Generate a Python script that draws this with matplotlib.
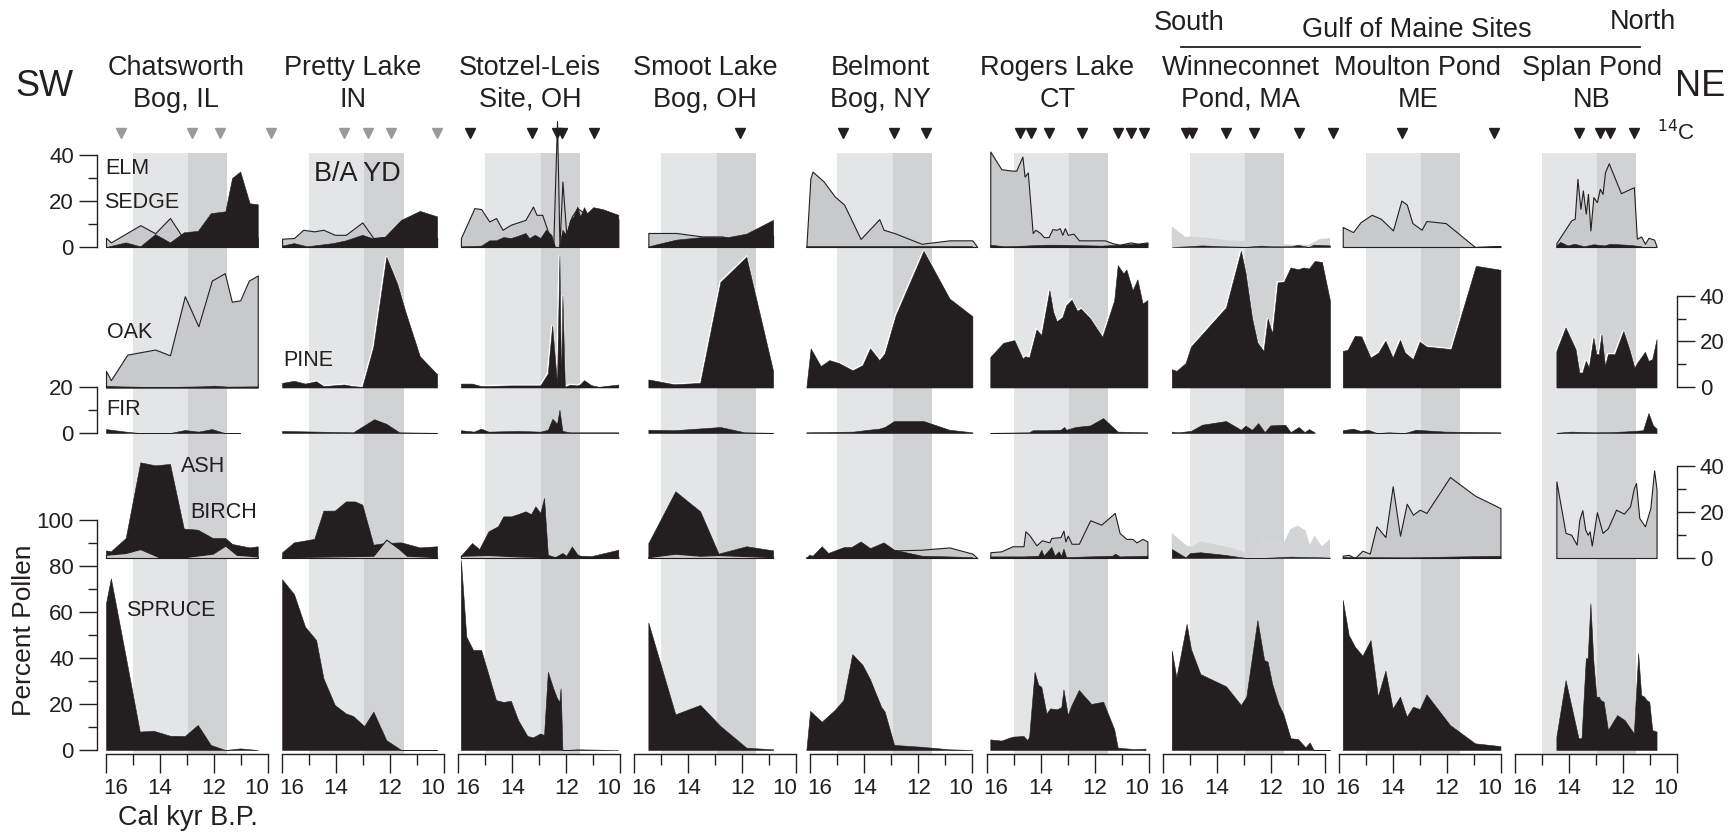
import matplotlib
matplotlib.use("Agg")
import matplotlib.pyplot as plt
from matplotlib.transforms import blended_transform_factory
from matplotlib.ticker import FixedLocator

plt.rcParams['font.family'] = ['Liberation Sans', 'DejaVu Sans']

# ---------------------------------------------------------------- data
SITE_LINE1 = ["Chatsworth", "Pretty Lake", "Stotzel-Leis", "Smoot Lake", "Belmont",
              "Rogers Lake", "Winneconnet", "Moulton Pond", "Splan Pond"]
SITE_LINE2 = ["Bog, IL", "IN", "Site, OH", "Bog, OH", "Bog, NY", "CT", "Pond, MA", "ME", "NB"]

BA_START, YD_START, YD_END = 15.0, 12.95, 11.5
AGE_TICKS = [16, 14, 12, 10]

# Chatsworth Bog, IL
CHA_SEDGE_T = [16.0, 15.82, 14.73, 14.18, 13.63, 13.22, 12.6, 12.0, 11.0, 10.38]
CHA_SEDGE = [4.0, 2.0, 9.5, 6.0, 12.6, 5.3, 4.0, 4.0, 4.0, 4.0]
CHA_ELM_T = [16.0, 15.27, 14.73, 14.18, 13.63, 13.12, 12.6, 12.12, 11.58, 11.33, 11.03, 10.68, 10.38]
CHA_ELM = [0.0, 2.0, 0.3, 5.6, 2.0, 6.4, 7.0, 14.7, 15.5, 30.0, 32.8, 19.0, 18.6]
CHA_OAK_T = [16.0, 15.82, 15.21, 14.18, 13.63, 13.08, 12.58, 12.08, 11.6, 11.34, 11.03, 10.71, 10.38]
CHA_OAK = [7.2, 3.2, 14.3, 16.5, 14.0, 39.7, 26.6, 46.5, 49.7, 37.3, 37.9, 46.5, 48.7]
CHA_PINE_T = [16.0, 15.5, 14.5, 13.5, 12.5, 12.0, 11.5, 10.38]
CHA_PINE = [0.8, 0.5, 0.3, 0.3, 0.5, 0.8, 0.4, 0.5]
CHA_FIR_T = [16.0, 15.27, 14.75, 13.63, 13.08, 12.58, 12.08, 11.6, 11.03]
CHA_FIR = [1.7, 0.6, 0.0, 0.0, 1.3, 0.6, 1.7, 0.0, 0.0]
CHA_ASH_T = [16.0, 15.82, 15.27, 14.73, 14.18, 13.63, 13.12, 12.6, 12.05, 11.58, 11.33, 10.68, 10.38]
CHA_ASH = [3.3, 2.9, 8.7, 41.6, 40.3, 40.9, 12.8, 12.3, 8.7, 8.7, 6.1, 4.6, 5.1]
CHA_BIRCH_T = [16.0, 15.27, 14.73, 14.04, 13.08, 12.05, 11.58, 11.16, 10.38]
CHA_BIRCH = [1.4, 2.2, 3.9, 0.4, 0.4, 1.9, 5.4, 1.4, 0.7]
CHA_SPRUCE_T = [16.0, 15.82, 15.27, 14.75, 14.25, 13.63, 13.08, 12.6, 12.12, 11.58, 11.03, 10.38]
CHA_SPRUCE = [63.8, 74.6, 40.6, 8.0, 8.4, 6.2, 6.1, 10.9, 2.2, 0.0, 0.7, 0.0]
CHA_C14 = [15.44, 12.8, 11.79, 9.88]

# Pretty Lake, IN
PRE_SEDGE_T = [16.0, 15.56, 15.22, 14.81, 14.47, 14.05, 13.64, 13.03, 12.62, 12.21, 11.6, 10.26]
PRE_SEDGE = [3.6, 3.9, 7.5, 6.8, 7.5, 5.3, 5.3, 10.7, 3.9, 4.3, 4.0, 4.0]
PRE_ELM_T = [16.0, 15.56, 15.08, 14.12, 13.64, 13.03, 12.68, 12.21, 11.59, 10.9, 10.26]
PRE_ELM = [0.6, 1.7, 0.3, 1.7, 2.9, 5.3, 3.9, 4.3, 11.8, 15.7, 13.3]
PRE_PINE_T = [16.0, 15.56, 15.15, 14.74, 14.47, 13.71, 13.37, 13.03, 12.62, 12.14, 11.73, 11.45, 10.9, 10.26]
PRE_PINE = [2.0, 2.9, 1.7, 2.7, 0.6, 1.3, 0.6, 0.3, 17.7, 56.8, 45.0, 33.6, 13.6, 5.8]
PRE_FIR_T = [16.0, 13.37, 12.59, 12.14, 11.66, 10.26]
PRE_FIR = [0.9, 0.3, 6.0, 4.0, 0.3, 0.1]
PRE_ASH_T = [16.0, 15.56, 14.81, 14.47, 14.05, 13.64, 13.3, 13.03, 12.62, 12.21, 11.59, 10.9, 10.26]
PRE_ASH = [2.5, 6.8, 8.3, 20.6, 20.6, 24.6, 24.6, 23.2, 5.8, 6.5, 6.8, 4.6, 5.1]
PRE_BIRCH_T = [16.0, 14.12, 12.62, 12.14, 11.66, 11.38, 10.26]
PRE_BIRCH = [0.4, 0.7, 1.0, 8.0, 3.9, 1.0, 0.4]
PRE_SPRUCE_T = [16.0, 15.56, 15.15, 14.74, 14.47, 14.05, 13.64, 13.37, 12.96, 12.62, 12.14, 11.59, 10.26]
PRE_SPRUCE = [74.2, 67.8, 53.6, 47.8, 31.2, 19.6, 15.9, 14.8, 10.4, 16.7, 4.3, 0.0, 0.0]
PRE_C14 = [13.7, 12.81, 11.96, 10.25]

# Stotzel-Leis Site, OH
STO_SEDGE_T = [15.9, 15.4, 15.15, 14.85, 14.6, 14.36, 14.05, 13.51, 13.23, 13.1, 12.89, 12.68,
               12.48, 12.34, 12.25, 12.14, 12.0, 11.79, 11.59, 11.0, 10.07]
STO_SEDGE = [3.9, 16.9, 16.5, 11.1, 12.6, 7.5, 9.7, 11.8, 17.6, 14.0, 14.0, 6.8,
             0.3, 54.8, 0.3, 28.5, 5.8, 13.3, 16.9, 12.0, 12.0]
STO_ELM_T = [15.9, 15.15, 14.85, 14.6, 14.33, 14.05, 13.78, 13.51, 13.37, 13.16, 12.96, 12.75, 12.55,
             12.41, 12.27, 12.14, 12.0, 11.86, 11.73, 11.59, 11.48, 11.34, 11.23, 11.0, 10.66, 10.07]
STO_ELM = [0.3, 0.6, 2.9, 2.9, 4.3, 3.9, 4.9, 6.1, 3.9, 5.3, 3.9, 7.5, 5.3,
           0.0, 0.0, 7.5, 5.3, 11.8, 13.3, 17.6, 13.3, 17.3, 14.7, 17.3, 16.5, 14.0]
STO_PINE_T = [15.9, 15.49, 15.15, 14.05, 12.96, 12.68, 12.52, 12.34, 12.25, 12.19, 12.14, 12.05,
              11.86, 11.59, 11.48, 11.34, 11.07, 10.79, 10.07]
STO_PINE = [1.7, 1.7, 0.6, 0.9, 0.9, 6.1, 27.0, 1.7, 57.4, 0.3, 40.0, 0.3, 1.2, 0.9, 1.4, 3.2, 1.0, 0.3, 1.3]
STO_FIR_T = [15.9, 15.42, 15.15, 14.88, 13.78, 12.96, 12.68, 12.51, 12.34, 12.25, 12.14, 11.86, 10.07]
STO_FIR = [1.2, 0.6, 1.9, 0.6, 0.9, 0.6, 1.4, 6.2, 4.0, 10.1, 0.9, 0.3, 0.3]
STO_ASH_T = [15.9, 15.49, 15.22, 14.88, 14.53, 14.33, 14.05, 13.78, 13.51, 13.3, 13.14, 12.96, 12.82,
             12.68, 12.41, 12.14, 12.0, 11.79, 11.59, 11.48, 11.07, 10.07]
STO_ASH = [1.0, 6.5, 3.9, 11.6, 13.8, 18.1, 18.1, 19.1, 20.3, 19.1, 22.5, 19.6, 26.1,
           1.4, 0.4, 2.2, 1.0, 5.0, 1.6, 1.0, 0.8, 3.6]
STO_BIRCH_T = [15.9, 14.88, 13.78, 12.68, 12.14, 10.07]
STO_BIRCH = [1.0, 1.3, 0.7, 0.4, 0.4, 0.5]
STO_SPRUCE_T = [15.9, 15.7, 15.45, 15.15, 14.6, 14.33, 14.05, 13.78, 13.44, 13.23, 12.96, 12.82, 12.68,
                12.48, 12.34, 12.25, 12.21, 12.19, 12.14, 12.07, 11.59, 10.07]
STO_SPRUCE = [82.6, 49.3, 43.5, 43.5, 21.7, 20.9, 21.4, 13.0, 6.1, 5.5, 7.2, 6.5, 34.0,
              26.8, 22.5, 21.0, 26.8, 21.0, 0.0, 0.0, 0.3, 0.0]
STO_C14 = [15.56, 13.27, 12.34, 12.14, 10.98]

# Smoot Lake Bog, OH
SMO_SEDGE_T = [15.48, 14.45, 13.49, 12.74, 12.53, 11.85, 10.86]
SMO_SEDGE = [6.1, 6.1, 4.6, 4.6, 3.9, 5.0, 5.0]
SMO_ELM_T = [15.48, 14.45, 13.49, 12.53, 11.85, 10.86]
SMO_ELM = [0.3, 3.2, 4.3, 4.3, 5.8, 11.8]
SMO_PINE_T = [15.48, 14.52, 13.56, 12.81, 11.85, 10.86]
SMO_PINE = [3.5, 1.4, 2.0, 45.9, 56.8, 7.2]
SMO_FIR_T = [15.48, 14.52, 12.81, 11.92, 10.86]
SMO_FIR = [1.4, 1.2, 2.6, 0.3, 0.1]
SMO_ASH_T = [15.48, 14.48, 13.56, 12.88, 11.85, 10.86]
SMO_ASH = [6.5, 29.0, 20.3, 1.9, 5.1, 3.3]
SMO_BIRCH_T = [15.48, 14.48, 13.56, 12.88, 10.86]
SMO_BIRCH = [0.4, 1.9, 1.0, 1.3, 0.4]
SMO_SPRUCE_T = [15.48, 14.48, 13.56, 12.81, 11.85, 10.86]
SMO_SPRUCE = [55.4, 15.5, 19.6, 10.4, 1.0, 0.3]
SMO_C14 = [12.08]

# Belmont Bog, NY
BEL_SEDGE_T = [16.15, 16.0, 15.92, 15.51, 15.1, 14.75, 14.14, 13.45, 13.29, 12.9, 11.88, 10.85, 10.0, 9.82]
BEL_SEDGE = [0.0, 29.9, 32.8, 28.5, 22.0, 18.4, 3.5, 12.1, 7.5, 6.1, 1.4, 2.9, 2.9, 0.0]
BEL_ELM_T = [16.15, 13.0, 10.0]
BEL_ELM = [0.3, 0.3, 0.3]
BEL_PINE_T = [16.15, 15.99, 15.62, 15.3, 14.96, 14.44, 14.07, 13.79, 13.45, 13.25, 12.84, 11.81, 10.85, 10.0]
BEL_PINE = [0.0, 17.0, 9.3, 11.9, 10.7, 7.5, 9.7, 17.0, 11.9, 14.8, 31.4, 59.4, 38.7, 31.0]
BEL_FIR_T = [16.15, 14.41, 13.86, 13.45, 13.25, 12.9, 11.81, 10.85, 10.0]
BEL_FIR = [0.3, 0.6, 1.4, 1.9, 2.6, 5.2, 5.2, 1.4, 0.3]
BEL_ASH_T = [16.15, 16.05, 15.92, 15.58, 15.34, 14.75, 14.48, 14.14, 13.79, 13.29, 12.9, 11.88, 10.0]
BEL_ASH = [0.0, 1.4, 1.0, 5.1, 2.2, 4.8, 4.8, 7.2, 4.3, 6.8, 3.6, 1.0, 0.4]
BEL_BIRCH_T = [16.15, 12.9, 11.88, 10.85, 10.0, 9.82]
BEL_BIRCH = [0.4, 3.3, 3.6, 4.6, 1.9, 0.0]
BEL_SPRUCE_T = [16.15, 16.01, 15.58, 15.1, 14.78, 14.45, 14.07, 13.79, 13.38, 13.25, 12.9, 11.88, 10.85, 10.0]
BEL_SPRUCE = [0.0, 17.0, 12.3, 17.4, 21.7, 41.7, 37.0, 30.7, 18.8, 16.7, 2.2, 1.4, 0.3, 0.0]
BEL_C14 = [14.8, 12.91, 11.72]

# Rogers Lake, CT
ROG_SEDGE_T = [15.86, 15.45, 15.04, 14.9, 14.67, 14.59, 14.47, 14.29, 14.19, 14.01, 13.88, 13.7, 13.56,
               13.4, 13.29, 13.19, 13.1, 12.99, 12.78, 12.58, 11.62, 11.34, 11.07, 10.66, 10.38, 10.04]
ROG_SEDGE = [41.5, 33.8, 33.2, 33.2, 39.3, 30.6, 32.4, 6.1, 7.5, 6.1, 4.3, 4.3, 7.8,
             7.5, 8.2, 5.3, 8.2, 5.3, 5.8, 2.9, 2.9, 1.7, 1.0, 2.0, 1.4, 2.0]
ROG_ELM_T = [15.86, 15.32, 14.63, 13.81, 13.26, 11.75, 11.07, 10.04]
ROG_ELM = [1.0, 0.3, 0.6, 1.0, 1.0, 0.6, 1.0, 1.7]
ROG_PINE_T = [15.86, 15.38, 14.97, 14.66, 14.56, 14.42, 14.15, 13.97, 13.67, 13.53, 13.4, 13.19, 13.05,
              12.85, 12.64, 12.51, 12.16, 11.71, 11.27, 11.14, 10.93, 10.82, 10.59, 10.41, 10.22, 10.04]
ROG_PINE = [13.3, 19.4, 20.6, 12.6, 13.6, 13.0, 25.2, 22.8, 42.3, 32.9, 28.8, 30.6, 35.7,
            38.2, 33.3, 34.3, 30.0, 22.0, 37.9, 53.2, 49.6, 51.3, 42.3, 47.0, 36.5, 38.0]
ROG_FIR_T = [15.86, 14.42, 14.29, 13.81, 13.26, 13.12, 13.05, 12.71, 12.16, 11.68, 11.14, 10.04]
ROG_FIR = [0.1, 0.3, 1.2, 1.2, 1.4, 2.6, 1.4, 2.6, 3.3, 6.5, 0.6, 0.3]
ROG_ASH_T = [15.86, 14.63, 14.08, 13.97, 13.88, 13.6, 13.47, 13.33, 13.23, 13.15, 13.05, 11.34, 11.23, 11.07, 10.04]
ROG_ASH = [0.7, 0.7, 1.0, 3.6, 1.0, 4.8, 1.0, 2.9, 1.0, 4.1, 0.4, 1.0, 1.9, 0.7, 1.0]
ROG_BIRCH_T = [15.86, 15.45, 15.04, 14.63, 14.56, 14.42, 14.15, 13.95, 13.67, 13.6, 13.26, 13.15, 13.08,
               12.99, 12.85, 12.58, 12.16, 11.75, 11.25, 11.07, 10.82, 10.59, 10.45, 10.22, 10.04]
ROG_BIRCH = [2.5, 2.9, 5.1, 5.1, 11.6, 10.1, 5.5, 7.7, 6.8, 8.7, 9.1, 11.9, 7.2,
             9.7, 6.2, 6.2, 16.4, 14.5, 19.6, 10.9, 8.3, 8.3, 6.8, 8.3, 7.2]
ROG_SPRUCE_T = [15.86, 15.45, 15.04, 14.63, 14.49, 14.42, 14.22, 14.08, 13.97, 13.78, 13.64, 13.4, 13.23,
                13.15, 12.99, 12.85, 12.58, 12.12, 11.68, 11.27, 11.14, 10.52, 10.11]
ROG_SPRUCE = [4.6, 4.1, 5.8, 6.1, 4.3, 5.8, 34.0, 28.3, 27.5, 15.9, 18.1, 17.7, 18.6,
              26.4, 15.2, 19.6, 26.1, 20.0, 21.0, 9.0, 1.0, 0.4, 0.6]
ROG_C14 = [14.77, 14.36, 13.67, 12.48, 11.14, 10.66, 10.15]

# Winneconnet Pond, MA
WIN_SEDGE_T = [15.66, 15.15, 14.95, 14.27, 13.58, 12.9, 12.69, 12.35, 11.94, 11.26, 10.58, 10.17, 9.8]
WIN_SEDGE = [9.0, 4.3, 4.6, 3.9, 2.9, 2.5, 3.5, 1.4, 1.4, 1.0, 1.0, 3.5, 3.9]
WIN_ELM_T = [15.66, 15.08, 14.54, 13.72, 12.9, 12.35, 11.94, 11.26, 10.99, 10.58, 10.41, 9.8]
WIN_ELM = [0.0, 0.3, 0.7, 0.3, 0.1, 0.6, 0.3, 0.3, 0.9, 0.0, 1.0, 0.7]
WIN_PINE_T = [15.66, 15.49, 15.15, 14.95, 13.65, 13.1, 12.93, 12.69, 12.49, 12.26, 12.11, 11.94, 11.74,
              11.51, 11.26, 10.99, 10.78, 10.58, 10.37, 10.1, 9.8]
WIN_PINE = [8.0, 7.2, 10.6, 17.8, 34.8, 59.4, 50.0, 30.4, 19.6, 15.9, 30.0, 23.5, 45.7,
            46.0, 52.2, 51.4, 52.2, 51.7, 55.0, 54.6, 37.7]
WIN_FIR_T = [15.66, 15.43, 14.95, 14.54, 13.65, 13.1, 12.93, 12.69, 12.46, 12.22, 12.01, 11.46, 11.26,
             10.96, 10.74, 10.58, 10.37]
WIN_FIR = [0.6, 0.3, 0.9, 3.6, 5.2, 1.4, 3.2, 1.4, 4.3, 0.4, 3.3, 3.6, 0.4, 2.6, 0.4, 1.7, 0.3]
WIN_ASH_T = [15.66, 15.15, 14.98, 14.6, 13.72, 12.9, 12.35, 11.26, 9.8]
WIN_ASH = [3.9, 0.3, 2.2, 2.5, 1.4, 0.0, 0.0, 0.6, 0.2]
WIN_BIRCH_T = [15.66, 15.08, 14.88, 14.6, 13.72, 13.04, 12.83, 12.56, 12.35, 12.08, 11.53, 11.26, 10.99,
               10.71, 10.55, 10.37, 10.1, 9.8]
WIN_BIRCH = [10.9, 5.1, 5.1, 7.2, 5.1, 2.9, 0.0, 3.3, 10.1, 7.7, 6.2, 12.6, 14.1, 12.0, 5.8, 9.7, 5.1, 8.3]
WIN_SPRUCE_T = [15.66, 15.49, 15.11, 14.95, 14.6, 13.65, 13.1, 12.9, 12.49, 12.24, 12.11, 11.94, 11.71,
                11.53, 11.26, 10.99, 10.71, 10.55, 10.41, 9.8]
WIN_SPRUCE = [43.2, 31.6, 54.8, 43.9, 33.0, 27.7, 19.6, 23.2, 56.5, 39.1, 38.4, 28.7, 20.0,
              15.7, 5.1, 4.8, 1.2, 3.3, 0.0, 0.0]
WIN_C14 = [15.13, 14.9, 13.66, 12.61, 10.96, 9.69]

# Moulton Pond, ME
MOU_SEDGE_T = [15.85, 15.47, 15.19, 14.78, 14.44, 13.99, 13.68, 13.48, 13.27, 12.93, 12.75, 12.04, 10.95, 10.01]
MOU_SEDGE = [8.7, 6.5, 10.8, 14.0, 12.3, 7.2, 20.2, 18.5, 10.4, 7.5, 11.3, 10.4, 0.0, 0.4]
MOU_ELM_T = [15.85, 10.95, 10.01]
MOU_ELM = [0.1, 0.1, 0.4]
MOU_PINE_T = [15.85, 15.67, 15.4, 15.16, 14.82, 14.53, 14.27, 14.0, 13.73, 13.55, 13.25, 13.0, 12.75,
              11.84, 10.92, 10.01]
MOU_PINE = [15.9, 16.4, 22.5, 22.2, 13.0, 15.2, 20.3, 13.0, 20.7, 15.2, 12.3, 19.9, 17.8, 16.7, 52.9, 51.2]
MOU_FIR_T = [15.85, 15.47, 15.19, 14.92, 14.58, 14.16, 13.55, 13.14, 12.04, 10.01]
MOU_FIR = [1.2, 1.9, 0.9, 1.4, 0.0, 0.3, 0.0, 1.4, 0.6, 0.3]
MOU_ASH_T = [15.85, 13.41, 10.01]
MOU_ASH = [0.4, 0.3, 1.0]
MOU_BIRCH_T = [15.85, 15.63, 15.4, 15.12, 14.85, 14.6, 14.27, 14.0, 13.73, 13.48, 13.25, 13.0, 12.75,
               11.88, 10.95, 10.01]
MOU_BIRCH = [1.0, 1.4, 0.0, 3.2, 1.9, 13.8, 9.1, 31.2, 9.7, 23.6, 18.8, 21.0, 19.6, 35.2, 27.1, 21.7]
MOU_SPRUCE_T = [15.85, 15.63, 15.4, 15.12, 14.82, 14.55, 14.27, 14.0, 13.73, 13.48, 13.25, 13.0, 12.75,
                11.88, 10.95, 10.01]
MOU_SPRUCE = [65.2, 50.0, 44.9, 41.0, 47.8, 23.2, 34.5, 18.1, 23.2, 14.5, 18.8, 17.8, 24.2, 10.9, 2.9, 1.7]
MOU_C14 = [13.64, 10.23]

# Splan Pond, NB
SPL_SEDGE_T = [14.46, 13.91, 13.78, 13.68, 13.57, 13.48, 13.37, 13.29, 13.2, 13.09, 12.96, 12.85, 12.75,
               12.66, 12.52, 12.07, 11.59, 11.48, 11.32, 11.18, 11.05, 10.84, 10.75]
SPL_SEDGE = [1.7, 11.6, 12.3, 29.6, 16.6, 24.6, 14.5, 23.1, 7.2, 21.7, 19.5, 25.3, 23.1,
             32.5, 36.4, 23.4, 26.0, 3.6, 4.6, 1.4, 4.0, 3.2, 0.3]
SPL_ELM_T = [14.46, 14.32, 14.05, 13.78, 13.44, 13.09, 12.68, 12.48, 11.73, 11.32]
SPL_ELM = [0.7, 2.2, 0.7, 1.4, 0.3, 1.2, 0.7, 1.4, 0.9, 0.3]
SPL_PINE_T = [14.46, 14.12, 13.75, 13.61, 13.5, 13.37, 13.26, 13.09, 12.98, 12.89, 12.79, 12.66, 12.55,
              12.3, 11.98, 11.76, 11.57, 11.46, 11.18, 11.05, 10.91, 10.75]
SPL_PINE = [15.9, 26.1, 16.7, 6.5, 6.5, 11.6, 8.7, 21.7, 14.5, 14.5, 23.2, 9.4, 14.5,
            14.5, 24.6, 16.7, 8.7, 10.9, 15.5, 11.6, 12.3, 21.0]
SPL_FIR_T = [14.46, 13.91, 13.09, 12.41, 11.87, 11.25, 11.05, 10.88, 10.75]
SPL_FIR = [0.1, 0.6, 0.3, 0.4, 0.7, 1.2, 8.7, 3.3, 1.9]
SPL_BIRCH_T = [14.46, 14.12, 13.91, 13.71, 13.61, 13.5, 13.39, 13.3, 13.23, 13.15, 12.96, 12.75, 12.55,
               12.25, 11.96, 11.73, 11.59, 11.51, 11.39, 11.18, 10.98, 10.84, 10.75]
SPL_BIRCH = [33.3, 10.9, 10.1, 5.8, 16.7, 20.8, 12.3, 10.1, 11.6, 5.4, 19.9, 10.9, 13.0,
             21.0, 19.3, 22.5, 30.4, 32.6, 17.4, 13.8, 21.7, 38.1, 29.7]
SPL_ASH_T = [14.46, 10.75]
SPL_ASH = [0.0, 0.0]
SPL_SPRUCE_T = [14.46, 14.12, 13.64, 13.53, 13.37, 13.3, 13.2, 13.09, 12.98, 12.89, 12.82, 12.71, 12.55,
                12.21, 11.93, 11.59, 11.43, 11.32, 11.21, 11.12, 11.02, 10.91, 10.75]
SPL_SPRUCE = [5.8, 30.4, 5.1, 5.1, 39.9, 39.9, 63.8, 38.4, 23.2, 23.2, 21.7, 21.0, 8.7,
              15.2, 13.0, 7.2, 42.0, 23.9, 23.2, 21.7, 21.0, 8.7, 8.0]
SPL_C14 = [13.63, 12.83, 12.46, 11.57]

SITES = [
    dict(sedge=(CHA_SEDGE_T, CHA_SEDGE), elm=(CHA_ELM_T, CHA_ELM), oak=(CHA_OAK_T, CHA_OAK),
         pine=(CHA_PINE_T, CHA_PINE), fir=(CHA_FIR_T, CHA_FIR), ash=(CHA_ASH_T, CHA_ASH),
         birch=(CHA_BIRCH_T, CHA_BIRCH), spruce=(CHA_SPRUCE_T, CHA_SPRUCE), c14=CHA_C14),
    dict(sedge=(PRE_SEDGE_T, PRE_SEDGE), elm=(PRE_ELM_T, PRE_ELM), oak=None,
         pine=(PRE_PINE_T, PRE_PINE), fir=(PRE_FIR_T, PRE_FIR), ash=(PRE_ASH_T, PRE_ASH),
         birch=(PRE_BIRCH_T, PRE_BIRCH), spruce=(PRE_SPRUCE_T, PRE_SPRUCE), c14=PRE_C14),
    dict(sedge=(STO_SEDGE_T, STO_SEDGE), elm=(STO_ELM_T, STO_ELM), oak=None,
         pine=(STO_PINE_T, STO_PINE), fir=(STO_FIR_T, STO_FIR), ash=(STO_ASH_T, STO_ASH),
         birch=(STO_BIRCH_T, STO_BIRCH), spruce=(STO_SPRUCE_T, STO_SPRUCE), c14=STO_C14),
    dict(sedge=(SMO_SEDGE_T, SMO_SEDGE), elm=(SMO_ELM_T, SMO_ELM), oak=None,
         pine=(SMO_PINE_T, SMO_PINE), fir=(SMO_FIR_T, SMO_FIR), ash=(SMO_ASH_T, SMO_ASH),
         birch=(SMO_BIRCH_T, SMO_BIRCH), spruce=(SMO_SPRUCE_T, SMO_SPRUCE), c14=SMO_C14),
    dict(sedge=(BEL_SEDGE_T, BEL_SEDGE), elm=(BEL_ELM_T, BEL_ELM), oak=None,
         pine=(BEL_PINE_T, BEL_PINE), fir=(BEL_FIR_T, BEL_FIR), ash=(BEL_ASH_T, BEL_ASH),
         birch=(BEL_BIRCH_T, BEL_BIRCH), spruce=(BEL_SPRUCE_T, BEL_SPRUCE), c14=BEL_C14),
    dict(sedge=(ROG_SEDGE_T, ROG_SEDGE), elm=(ROG_ELM_T, ROG_ELM), oak=None,
         pine=(ROG_PINE_T, ROG_PINE), fir=(ROG_FIR_T, ROG_FIR), ash=(ROG_ASH_T, ROG_ASH),
         birch=(ROG_BIRCH_T, ROG_BIRCH), spruce=(ROG_SPRUCE_T, ROG_SPRUCE), c14=ROG_C14),
    dict(sedge=(WIN_SEDGE_T, WIN_SEDGE), elm=(WIN_ELM_T, WIN_ELM), oak=None,
         pine=(WIN_PINE_T, WIN_PINE), fir=(WIN_FIR_T, WIN_FIR), ash=(WIN_ASH_T, WIN_ASH),
         birch=(WIN_BIRCH_T, WIN_BIRCH), spruce=(WIN_SPRUCE_T, WIN_SPRUCE), c14=WIN_C14),
    dict(sedge=(MOU_SEDGE_T, MOU_SEDGE), elm=(MOU_ELM_T, MOU_ELM), oak=None,
         pine=(MOU_PINE_T, MOU_PINE), fir=(MOU_FIR_T, MOU_FIR), ash=(MOU_ASH_T, MOU_ASH),
         birch=(MOU_BIRCH_T, MOU_BIRCH), spruce=(MOU_SPRUCE_T, MOU_SPRUCE), c14=MOU_C14),
    dict(sedge=(SPL_SEDGE_T, SPL_SEDGE), elm=(SPL_ELM_T, SPL_ELM), oak=None,
         pine=(SPL_PINE_T, SPL_PINE), fir=(SPL_FIR_T, SPL_FIR), ash=(SPL_ASH_T, SPL_ASH),
         birch=(SPL_BIRCH_T, SPL_BIRCH), spruce=(SPL_SPRUCE_T, SPL_SPRUCE), c14=SPL_C14),
]

# ---------------------------------------------------------------- styles / layout
W, H, DPI = 1730, 835, 100
BLACK = '#231f20'
GREY = '#c8c9cb'
LIGHT_DATA = '#d3d4d6'
BA_COL = '#e4e5e7'
YD_COL = '#d1d2d4'
C14_GREY = '#9a9a9a'
BIRCH_FRONT = [True, True, True, True, False, False, False, False, False]
LIGHT_SITE = [False, False, False, False, False, False, True, False, False]
TITLE_OFF = [70, 71, 72, 71, 70, 71, 78, 79, 77]

COL_X0, COL_STEP, COL_W = 106.0, 176.1, 162.0
PXP = 2.3  # pixels per percent
PANELS = {  # baseline (px from top), height (px)
    'elm': (247.0, 100.0),
    'pine': (387.5, 140.0),
    'fir': (433.0, 46.0),
    'ash': (558.0, 124.0),
    'spruce': (750.0, 230.0),
}
SHADE_TOP, SHADE_BOT = 153.0, 754.0
C14_Y = 133.0

fig = plt.figure(figsize=(W / DPI, H / DPI), dpi=DPI)


def px_axes(left, top, width, height):
    ax = fig.add_axes([left / W, 1 - (top + height) / H, width / W, height / H])
    ax.patch.set_alpha(0)
    for s in ax.spines.values():
        s.set_visible(False)
    ax.tick_params(left=False, bottom=False, labelleft=False, labelbottom=False)
    ax.set_xlim(16, 10)
    return ax


def pt(px):
    return px * 72.0 / DPI


def fill_grey(ax, series, color=GREY, outline=True, z=1):
    t, v = series
    if outline:
        ax.fill_between(t, 0, v, facecolor=color, edgecolor=BLACK, linewidth=0.8, zorder=z, clip_on=False)
    else:
        ax.fill_between(t, 0, v, facecolor=color, edgecolor='none', linewidth=0, zorder=z, clip_on=False)


def fill_black(ax, series, z=2, white_top=False):
    t, v = series
    if white_top:
        # white halo behind the black area, visible only along its upper edge
        ax.plot(t, v, color='white', lw=1.6, zorder=z - 0.5, clip_on=False, solid_joinstyle='miter')
    ax.fill_between(t, 0, v, facecolor=BLACK, edgecolor=BLACK, linewidth=0.4, zorder=z, clip_on=False)


def style_left(ax, top, major, minor, labels=True):
    ax.spines['left'].set_visible(True)
    ax.spines['left'].set_position(('outward', pt(9)))
    ax.spines['left'].set_bounds(0, top)
    ax.spines['left'].set_linewidth(1.0)
    ax.spines['left'].set_color(BLACK)
    ax.yaxis.set_major_locator(FixedLocator(major))
    ax.yaxis.set_minor_locator(FixedLocator(minor))
    ax.tick_params(axis='y', which='major', left=True, labelleft=labels, length=pt(18), width=1.0,
                   direction='out', pad=pt(5), labelsize=16, color=BLACK, labelcolor=BLACK)
    ax.tick_params(axis='y', which='minor', left=True, length=pt(9), width=1.0, direction='out', color=BLACK)


def style_right(ax, top, major, minor):
    ax.spines['right'].set_visible(True)
    ax.spines['right'].set_bounds(0, top)
    ax.spines['right'].set_linewidth(1.0)
    ax.spines['right'].set_color(BLACK)
    ax.yaxis.set_major_locator(FixedLocator(major))
    ax.yaxis.set_minor_locator(FixedLocator(minor))
    ax.tick_params(axis='y', which='major', right=True, labelright=True, left=False, labelleft=False,
                   length=pt(18), width=1.0, direction='out', pad=pt(5), labelsize=16,
                   color=BLACK, labelcolor=BLACK)
    ax.tick_params(axis='y', which='minor', right=True, left=False, length=pt(9), width=1.0,
                   direction='out', color=BLACK)


for i, site in enumerate(SITES):
    x0 = COL_X0 + COL_STEP * i

    # background shading (B/A and YD)
    bg = px_axes(x0, SHADE_TOP, COL_W, SHADE_BOT - SHADE_TOP)
    bg.set_ylim(0, 1)
    bg.axvspan(BA_START, YD_START, color=BA_COL, lw=0, zorder=0)
    bg.axvspan(YD_START, YD_END, color=YD_COL, lw=0, zorder=0)
    bg.set_zorder(0)

    axs = {}
    for k, (base, hgt) in PANELS.items():
        a = px_axes(x0, base - hgt, COL_W, hgt)
        a.set_ylim(0, hgt / PXP)
        a.set_zorder(2)
        axs[k] = a

    # ELM / SEDGE
    fill_grey(axs['elm'], site['sedge'], color=LIGHT_DATA if LIGHT_SITE[i] else GREY,
              outline=not LIGHT_SITE[i], z=1)
    fill_black(axs['elm'], site['elm'], z=2)

    # OAK / PINE
    if site['oak'] is not None:
        fill_grey(axs['pine'], site['oak'], z=1)
    fill_black(axs['pine'], site['pine'], z=2, white_top=(site['oak'] is None))

    # FIR
    fill_black(axs['fir'], site['fir'], z=2)

    # ASH / BIRCH
    if BIRCH_FRONT[i]:
        fill_black(axs['ash'], site['ash'], z=1)
        fill_grey(axs['ash'], site['birch'], z=2)
    else:
        fill_grey(axs['ash'], site['birch'], color=LIGHT_DATA if LIGHT_SITE[i] else GREY,
                  outline=not LIGHT_SITE[i], z=1)
        fill_black(axs['ash'], site['ash'], z=2)

    # SPRUCE
    fill_black(axs['spruce'], site['spruce'], z=2)

    # age axis
    sp = axs['spruce']
    sp.spines['bottom'].set_visible(True)
    sp.spines['bottom'].set_position(('outward', pt(4)))
    sp.spines['bottom'].set_bounds(16, 10)
    sp.spines['bottom'].set_linewidth(1.0)
    sp.spines['bottom'].set_color(BLACK)
    sp.xaxis.set_major_locator(FixedLocator(AGE_TICKS))
    sp.xaxis.set_minor_locator(FixedLocator([15, 13, 11]))
    sp.tick_params(axis='x', which='major', bottom=True, labelbottom=False, length=pt(19), width=1.0,
                   direction='out', color=BLACK)
    sp.tick_params(axis='x', which='minor', bottom=True, length=pt(11), width=1.0, direction='out',
                   color=BLACK)
    for tk in AGE_TICKS:
        if tk == AGE_TICKS[0]:
            ha, dx = 'left', -pt(3)
        elif tk == AGE_TICKS[-1]:
            ha, dx = 'right', pt(1)
        else:
            ha, dx = 'center', 0
        sp.annotate(str(tk), xy=(tk, 0), xycoords=('data', 'axes fraction'),
                    xytext=(dx, -pt(39)), textcoords='offset points', ha=ha, va='center',
                    fontsize=16, color=BLACK, annotation_clip=False)

    # 14C dates
    tr = blended_transform_factory(bg.transData, fig.transFigure)
    bg.plot(site['c14'], [1 - C14_Y / H] * len(site['c14']), linestyle='none', marker='v',
            markersize=7, color=C14_GREY if i < 2 else BLACK, transform=tr, clip_on=False)

    # site titles
    fig.text((x0 + TITLE_OFF[i]) / W, 1 - 68 / H, SITE_LINE1[i], ha='center', va='center',
             fontsize=19.5, color=BLACK)
    fig.text((x0 + TITLE_OFF[i]) / W, 1 - 100 / H, SITE_LINE2[i], ha='center', va='center',
             fontsize=19.5, color=BLACK)

    if i == 0:
        style_left(axs['elm'], 40, [0, 20, 40], [10, 30])
        style_left(axs['fir'], 20, [0, 20], [10])
        style_left(axs['spruce'], 100, [0, 20, 40, 60, 80, 100], [10, 30, 50, 70, 90])
    if i == len(SITES) - 1:
        style_right(axs['pine'], 40, [0, 20, 40], [10, 30])
        style_right(axs['ash'], 40, [0, 20, 40], [10, 30])

# ---------------------------------------------------------------- text annotations
def ftext(x, y, s, **kw):
    kw.setdefault('color', BLACK)
    fig.text(x / W, 1 - y / H, s, **kw)

ftext(44, 86, "SW", ha='center', va='center', fontsize=26)
ftext(1700, 86, "NE", ha='center', va='center', fontsize=26)
ftext(1657, 133, r"$^{14}$C", ha='left', va='center', fontsize=16)
ftext(1189, 23, "South", ha='center', va='center', fontsize=19.5)
ftext(1417, 30, "Gulf of Maine Sites", ha='center', va='center', fontsize=19.5)
ftext(1643, 22, "North", ha='center', va='center', fontsize=19.5)
fig.add_artist(plt.Line2D([1181 / W, 1640 / W], [1 - 47 / H, 1 - 47 / H], color=BLACK, lw=1.3))

ftext(105, 168, "ELM", ha='left', va='center', fontsize=15.5)
ftext(104, 202, "SEDGE", ha='left', va='center', fontsize=15.5)
ftext(314, 174, "B/A YD", ha='left', va='center', fontsize=19.5)
ftext(107, 333, "OAK", ha='left', va='center', fontsize=15.5)
ftext(283, 360, "PINE", ha='left', va='center', fontsize=15.5)
ftext(106, 409, "FIR", ha='left', va='center', fontsize=15.5)
ftext(181, 467, "ASH", ha='left', va='center', fontsize=15.5)
ftext(190, 513, "BIRCH", ha='left', va='center', fontsize=15.5)
ftext(126, 610, "SPRUCE", ha='left', va='center', fontsize=15.5)
ftext(24, 630, "Percent Pollen", ha='center', va='center', rotation=90, fontsize=19)
ftext(188, 818, "Cal kyr B.P.", ha='center', va='center', fontsize=19.5)

fig.savefig("out.png", dpi=DPI)
